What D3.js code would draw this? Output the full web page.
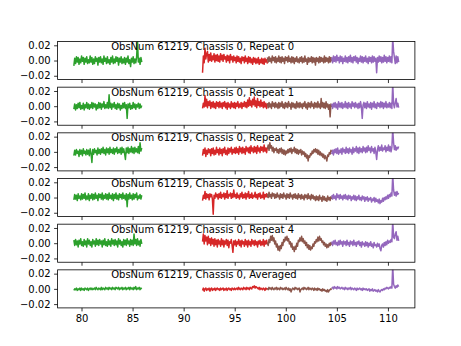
<!DOCTYPE html>
<html><head><meta charset="utf-8">
<script src="https://cdn.jsdelivr.net/npm/d3@7"></script>
<style>body{margin:0;background:#fff}svg{display:block}</style>
</head><body>
<svg id="chart" width="461" height="346"></svg>
<script>
// ---- data (values in units of 0.001) ----
const panelTitles = ["ObsNum 61219, Chassis 0, Repeat 0","ObsNum 61219, Chassis 0, Repeat 1",
  "ObsNum 61219, Chassis 0, Repeat 2","ObsNum 61219, Chassis 0, Repeat 3",
  "ObsNum 61219, Chassis 0, Repeat 4","ObsNum 61219, Chassis 0, Averaged"];
const segColors = ["#2ca02c","#d62728","#8c564b","#9467bd"];
const segStart = [79.25, 91.85, 98.2, 104.5];
const segEnd   = [85.9, 98.2, 104.5, 111.05];
const valueUnit = 0.001;
const xTicks = [80,85,90,95,100,105,110];
const yTicks = [-0.02,0,0.02];

const green0 = [-7,3,-4,5,-2,4,-5,2,-3,6,-1,4,-5,3,-2,5,-4,1,-3,6,
  -2,4,-5,2,-4,5,-1,3,-6,4,-2,5,-3,2,-5,6,-1,3,-4,5,
  -3,1,-5,4,-2,6,-4,2,-3,5,-1,4,-6,3,-2,5,-4,2,-3,4,
  -5,3,-2,6,-4,1,-8,3,-2,5,-4,2,-3,4,28,-2,3,-5,4,-2];
const red0 = [-16,6,-3,16,2,9,12,-2,8,0,10,-1,6,1,9,-2,7,0,8,-1,
  6,-2,9,1,7,-1,8,2,5,-2,7,0,6,-3,8,1,5,-2,6,0,
  4,-3,6,-1,5,-2,3,-4,5,0,4,-3,6,-1,3,-4,5,-2,4,-3,
  2,-5,4,-2,3,-4,2,-3,4,-5,1,-3,3,-4,2,-5,3,-2,1,-4];
const brown0 = [4,-2,5,-1,3,-3,6,0,4,-2,5,-3,3,-1,6,-2,4,-3,5,-1,
  3,-4,5,0,4,-2,6,-1,3,-3,5,-2,4,-4,3,-1,5,-2,2,-3,
  4,-1,5,-3,3,-2,6,-1,2,-5,4,-2,3,-1,5,-3,4,-2,3,-6,
  4,-1,3,-3,5,-2,4,-1,3,-3,6,-2,4,-1,3,-3,5,-2,4,-1];
const purple0 = [4,-3,6,-1,5,-2,7,0,4,-3,6,-1,5,-4,3,-1,6,-2,4,-3,
  5,-1,7,-2,4,-3,5,0,6,-2,4,-4,3,-1,6,-2,5,-3,4,-1,
  6,-2,3,-4,5,-1,4,-3,6,-2,5,-1,3,-16,4,-2,6,-1,5,-3,
  4,-2,7,-1,5,-3,4,-1,6,-2,5,-3,30,12,4,-4,6,-3,5,-2];

const green1 = [-4,3,-5,2,-3,4,-2,5,-4,1,-3,4,-5,2,-2,5,-3,3,-4,2,
  -2,5,-3,4,-1,3,-5,2,-3,5,-2,4,-4,3,-1,6,-3,2,-2,5,
  -3,15,-2,4,-4,3,-1,5,-3,2,-4,4,-2,3,-5,1,-3,4,-2,5,
  -3,2,-16,3,-2,4,-4,1,-3,5,-2,3,-4,2,-1,4,-3,3,-2,1];
const red1 = [-3,4,-1,14,0,9,-2,6,1,7,-3,5,-1,6,-2,4,-3,6,0,5,
  -2,6,-1,4,-3,5,0,6,-2,4,-4,5,-1,3,-3,6,-1,4,-2,5,
  -3,4,0,6,-2,3,-1,5,-3,4,0,6,-1,5,-2,8,0,11,1,7,
  -1,9,2,12,0,7,-2,10,1,6,-1,8,0,5,-2,6,-1,4,-3,3];
const brown1 = [4,-2,5,-1,3,-3,6,0,4,-2,5,-1,3,-3,5,-2,4,0,6,-2,
  3,-3,5,-1,4,-2,6,0,3,-4,5,-1,4,-2,3,-3,6,-1,4,-2,
  5,-1,3,-3,4,0,6,-2,3,-4,5,-1,4,-2,6,0,3,-3,5,-1,
  4,-2,6,-1,3,-3,10,-1,5,-2,4,-3,6,-1,3,-4,2,-14,3,-1];
const purple1 = [3,-3,4,-1,5,-2,3,-4,6,-1,4,-2,5,-3,3,-1,6,-2,4,-3,
  5,-1,3,-3,6,0,4,-2,5,-1,3,-3,4,-2,6,-1,-16,2,5,-2,
  4,-3,6,-1,3,-2,5,-4,4,-1,6,-2,3,-3,5,0,4,-2,6,-1,
  5,-3,4,-1,6,-2,3,-1,5,-2,4,-3,30,3,-2,5,10,-1,4,-2];

const green2 = [-5,2,-4,3,-2,1,-6,3,-3,2,-5,4,-2,1,-4,3,-3,2,-5,4,
  -2,-14,3,-3,4,-1,2,-4,5,-2,3,-3,4,-1,6,-2,3,-4,5,-1,
  4,-3,6,-1,3,-2,5,-3,4,0,6,-2,3,-1,5,-3,6,-1,4,-2,
  -10,5,-1,6,-2,4,0,7,-1,5,-2,6,0,4,-1,7,-2,12,1,5];
const red2 = [-5,3,-2,5,-6,2,-3,4,-1,3,-5,4,-2,5,-4,2,-3,6,-1,3,
  -4,5,-2,3,-5,4,-1,6,-3,2,-4,5,-2,4,0,6,-3,3,-1,5,
  -2,6,-1,4,-3,7,0,5,-2,6,-1,4,-3,7,1,5,-1,6,-2,8,
  1,5,-1,7,0,6,-2,8,1,5,-1,7,2,6,0,9,1,5,-1,6];
const brown2 = [4,9,2,12,5,8,1,6,-1,4,2,5,-1,3,-2,4,0,5,-2,3,
  -3,2,-4,1,-2,3,-1,4,0,5,-2,3,1,6,-1,4,-2,3,-3,2,
  -1,3,-4,1,-3,0,-6,-2,-8,-4,-12,-5,-7,-2,-4,1,-2,3,0,4,
  -1,3,-3,2,-4,0,-5,-2,-7,-3,-9,-5,-8,-12,-4,-6,-1,-3,2,0];
const purple2 = [-3,2,-4,3,-1,4,-2,5,-3,2,-1,4,-3,5,0,3,-2,6,-1,4,
  -2,5,0,3,-3,6,-1,4,1,7,-1,5,-2,6,0,4,-1,7,1,5,
  -1,6,0,8,2,5,-1,7,1,4,-2,6,0,-10,3,8,1,6,2,9,
  1,5,3,8,0,6,2,9,1,7,0,6,30,12,3,8,2,6,4,7];

const green3 = [-3,4,-2,3,-4,5,-1,2,-3,5,-2,4,-1,6,-3,2,-2,5,-4,3,
  -1,5,-3,4,-2,6,-1,3,-4,5,0,4,-2,6,-3,3,-1,5,-2,4,
  -3,6,-1,3,-2,5,-4,4,-1,6,-2,3,-3,5,0,4,-2,6,-1,3,
  -3,5,-12,4,-2,6,-1,3,-3,5,-2,4,0,6,-3,2,-1,4,-2,3];
const red3 = [-4,3,-1,8,-2,5,0,4,-3,5,1,4,-2,-22,3,-1,6,1,4,-2,
  5,0,7,-1,4,1,6,-2,5,0,9,-1,4,2,6,-1,5,0,10,1,
  4,-1,6,0,3,-2,5,1,7,-1,4,0,6,-2,5,1,8,-1,4,0,
  6,-1,3,1,7,0,4,-2,5,1,6,-1,3,0,7,-2,4,1,5,0];
const brown3 = [5,0,7,1,4,-1,6,2,5,-1,4,0,6,1,3,-2,5,0,4,-1,
  6,1,3,-2,5,0,4,-1,6,1,3,-2,4,0,5,-1,3,-2,5,0,
  3,-2,4,-1,2,-3,4,0,3,-2,5,-1,2,-3,4,-1,3,-2,1,-4,
  2,-3,1,-4,3,-2,0,-5,2,-3,1,-4,-1,-5,2,-3,0,-4,1,-2];
const purple3 = [3,-2,4,-1,2,-3,5,0,3,-2,4,-1,2,-3,3,-1,4,-2,2,-3,
  3,-1,2,-4,1,-2,3,-3,2,-4,1,-2,3,-3,0,-4,2,-2,1,-5,
  0,-3,1,-5,-1,-3,0,-6,-2,-4,0,-6,-1,-5,-3,-7,-2,-8,-4,-6,
  -1,-5,0,-3,1,-2,3,-1,4,1,6,2,30,10,3,7,2,8,4,6];

const green4 = [4,-3,5,-2,3,-5,4,-1,6,-3,2,-4,5,-2,3,-5,6,-1,4,-3,
  2,-5,5,-1,3,-4,6,-2,4,-3,5,-1,3,-5,4,-2,6,-3,2,-4,
  5,-2,3,-4,6,-1,4,-3,5,-2,3,-5,6,-1,4,-3,2,-5,5,-2,
  4,-3,6,-1,3,-4,5,-2,4,-3,12,-1,5,-3,6,-2,3,-4,5,-1];
const red4 = [2,12,-1,10,3,8,-2,9,0,6,-3,7,-1,5,-4,6,-2,4,-5,5,
  -1,3,-4,6,-2,4,-5,3,-1,5,-3,4,-6,2,0,5,-3,-12,3,-2,
  4,-4,2,-1,5,-3,3,-5,4,-1,2,-4,5,-2,3,-5,4,-2,2,-4,
  5,-1,3,-3,4,-2,2,-5,3,-1,4,-3,2,-2,5,-4,3,-1,4,-2];
const brown4 = [1,-3,5,1,9,4,10,3,7,-1,3,-5,-1,-9,-4,-10,-3,-7,1,-3,
  5,2,8,4,9,3,6,-1,2,-5,0,-8,-5,-11,-4,-8,0,-4,4,2,
  7,3,9,2,6,0,3,-3,1,-6,-2,-8,-3,-9,-5,-7,-1,-4,2,0,
  5,2,8,3,9,4,6,1,3,-2,1,-4,-1,-6,-2,-5,0,-3,1,-2];
const purple4 = [2,-3,3,-1,4,-2,1,-3,3,-2,4,-1,2,-4,3,-1,2,-3,4,-2,
  1,-4,3,-1,2,-3,4,-2,1,-4,2,-1,3,-3,1,-5,2,-2,0,-4,
  2,-3,1,-5,0,-3,2,-4,-1,-6,1,-3,-2,-5,0,-4,-1,-7,-10,-3,
  -1,-5,1,-3,2,-2,4,0,3,1,5,2,30,8,6,12,15,4,9,3];

const green5 = [-2,0,-1,1,-2,0,-1,1,-2,1,-1,0,-2,1,0,-1,1,-2,0,1,
  -1,1,-1,0,1,-1,2,0,-1,1,0,-1,2,-1,1,0,-1,2,0,1,
  -1,2,0,1,-1,2,0,1,-1,2,1,0,2,-1,1,0,2,-1,1,0,
  2,-1,1,0,2,-1,2,0,1,-1,2,0,3,-1,1,0,2,-1,1,0];
const red5 = [-2,1,-3,0,1,-2,0,-1,1,-3,0,1,-2,0,-1,1,-2,0,1,-1,
  0,-2,1,-1,0,1,-2,0,-1,1,-2,0,1,-1,0,-2,1,0,-1,1,
  -1,0,1,-1,2,0,-1,1,0,-1,2,0,1,-1,2,0,1,-1,2,1,
  0,3,2,4,1,3,2,1,0,2,-1,1,0,-1,1,0,-2,1,0,-1];
const brown5 = [1,-1,2,0,1,-1,2,0,-1,1,0,2,-1,1,0,-1,2,0,1,-1,
  0,1,-1,2,0,-1,1,-2,0,-4,-1,1,0,-1,2,0,1,-1,0,1,
  -4,-1,0,1,-1,2,0,1,-1,0,2,-1,1,0,-1,1,0,-2,1,-1,
  0,-2,1,-1,0,-2,-1,-3,0,-2,-1,-3,-2,-4,-1,-4,-2,-1,0,-1];
const purple5 = [1,2,0,3,1,2,0,3,1,2,0,1,2,0,1,-1,2,0,1,-1,
  1,0,2,-1,1,0,-1,1,0,-2,1,-1,0,1,-1,0,-2,1,-1,0,
  -1,0,-2,-1,0,-3,-1,-2,0,-3,-2,-1,-3,-2,-4,-1,-3,-4,-2,-1,
  -2,0,-1,1,0,2,1,0,2,1,3,1,30,6,3,1,4,2,5,3];

const panelSeries = [
  [green0, red0, brown0, purple0],
  [green1, red1, brown1, purple1],
  [green2, red2, brown2, purple2],
  [green3, red3, brown3, purple3],
  [green4, red4, brown4, purple4],
  [green5, red5, brown5, purple5]
];

// ---- layout ----
const svg = d3.select("#chart");
const L = 57.6, R = 414.9, T = 41.5, B = 307.9;
const nP = panelSeries.length;
const ph = (B - T) / (nP + (nP - 1) * 0.2);
const gap = 0.2 * ph;
const font = "DejaVu Sans, sans-serif";

const x = d3.scaleLinear().domain([77.66, 112.64]).range([L, R]);
const fmt = d3.format(".2f");

panelSeries.forEach((series, i) => {
  const y0 = T + i * (ph + gap);
  const y = d3.scaleLinear().domain([-0.025, 0.025]).range([y0 + ph, y0]);
  const g = svg.append("g");
  const clipId = "clip" + i;
  svg.append("clipPath").attr("id", clipId).append("rect")
    .attr("x", L).attr("y", y0).attr("width", R - L).attr("height", ph);

  const lg = g.append("g").attr("clip-path", `url(#${clipId})`);
  series.forEach((vals, s) => {
    const n = vals.length;
    const line = d3.line()
      .x((d, j) => x(segStart[s] + j * (segEnd[s] - segStart[s]) / (n - 1)))
      .y(d => y(d * valueUnit));
    lg.append("path").datum(vals).attr("d", line)
      .attr("fill", "none").attr("stroke", segColors[s])
      .attr("stroke-width", 1.5).attr("stroke-linejoin", "round");
  });

  const ya = g.append("g").attr("transform", `translate(${L},0)`)
    .call(d3.axisLeft(y).tickValues(yTicks).tickSize(3.5).tickPadding(3.5).tickFormat(d => fmt(d)));
  ya.select(".domain").remove();
  ya.selectAll("line").attr("stroke", "#000").attr("stroke-width", 0.8);
  ya.selectAll("text").attr("font-family", font).attr("font-size", 10).attr("fill", "#000");

  const last = i === nP - 1;
  const xa = g.append("g").attr("transform", `translate(0,${y0 + ph})`)
    .call(d3.axisBottom(x).tickValues(xTicks).tickSize(3.5).tickPadding(3.5)
      .tickFormat(last ? d3.format("d") : () => ""));
  xa.select(".domain").remove();
  xa.selectAll("line").attr("stroke", "#000").attr("stroke-width", 0.8);
  xa.selectAll("text").attr("font-family", font).attr("font-size", 10).attr("fill", "#000");

  g.append("rect").attr("x", L).attr("y", y0).attr("width", R - L).attr("height", ph)
    .attr("fill", "none").attr("stroke", "#000").attr("stroke-width", 0.8);

  g.append("text").attr("x", L + 0.15 * (R - L)).attr("y", y0 + 8.6)
    .attr("font-family", font).attr("font-size", 10).attr("fill", "#000")
    .text(panelTitles[i]);
});
</script>
</body></html>
